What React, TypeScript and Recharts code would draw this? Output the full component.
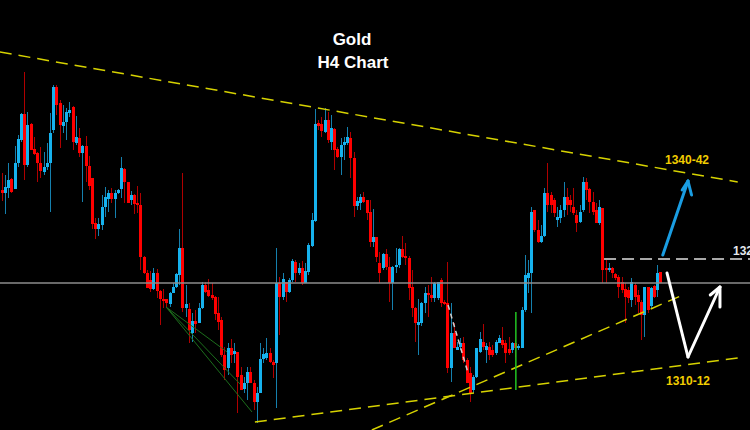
import React from 'react';
import { ComposedChart, Bar, XAxis, YAxis, ReferenceLine } from 'recharts';

// H4 candles, oldest first (price, no axis shown)
const opens = [
  1339.0, 1338.4, 1339.4, 1341.2, 1339.2, 1344.4, 1349.0, 1354.2, 1344.0, 1352.2,
  1347.2, 1346.4, 1344.4, 1342.6, 1343.6, 1344.4, 1351.0, 1359.6, 1356.4, 1351.8,
  1352.6, 1354.4, 1355.6, 1348.4, 1349.4, 1346.4, 1347.8, 1343.8, 1341.4, 1332.4,
  1331.2, 1332.0, 1335.6, 1337.2, 1338.4, 1337.2, 1338.4, 1339.2, 1343.2, 1340.6,
  1337.0, 1338.0, 1336.4, 1336.0, 1325.6, 1322.4, 1321.0, 1319.2, 1322.4, 1318.8,
  1317.2, 1317.2, 1316.2, 1318.4, 1319.6, 1322.0, 1327.4, 1315.4, 1315.2, 1310.4,
  1312.8, 1312.4, 1315.4, 1320.0, 1319.0, 1318.0, 1317.6, 1314.4, 1313.0, 1306.0,
  1303.4, 1307.4, 1306.2, 1306.6, 1302.0, 1299.2, 1300.4, 1302.6, 1300.4, 1296.6,
  1298.4, 1305.2, 1305.4, 1306.4, 1304.6, 1304.4, 1320.4, 1317.6, 1320.6, 1318.6,
  1321.0, 1324.6, 1322.4, 1323.4, 1320.4, 1322.6, 1327.8, 1332.8, 1352.4, 1352.2,
  1350.6, 1353.0, 1348.6, 1351.2, 1347.2, 1345.6, 1348.0, 1348.4, 1349.4, 1345.4,
  1335.8, 1336.4, 1337.6, 1337.0, 1334.6, 1328.6, 1329.6, 1324.4, 1323.4, 1326.2,
  1323.6, 1320.4, 1323.6, 1324.0, 1327.2, 1325.8, 1325.4, 1319.6, 1315.4, 1312.0,
  1312.4, 1316.4, 1318.4, 1318.0, 1317.4, 1317.4, 1321.0, 1316.6, 1316.4, 1303.4,
  1310.4, 1307.0, 1307.6, 1308.4, 1305.0, 1302.4, 1299.0, 1301.6, 1306.6, 1308.6,
  1307.0, 1307.6, 1307.0, 1306.4, 1308.4, 1309.0, 1308.4, 1307.2, 1307.0, 1308.4,
  1307.4, 1307.4, 1315.0, 1321.4, 1322.4, 1335.0, 1331.0, 1328.6, 1329.8, 1338.4,
  1338.0, 1337.0, 1333.0, 1333.4, 1335.0, 1337.6, 1337.0, 1335.6, 1334.0, 1332.6,
  1335.0, 1340.6, 1339.2, 1336.6, 1335.0, 1332.4, 1335.4, 1323.4, 1323.0, 1323.4,
  1322.2, 1321.6, 1320.6, 1319.2, 1319.0, 1317.0, 1320.0, 1318.0, 1316.6, 1314.0,
  1319.6, 1315.8, 1319.8, 1319.0, 1322.6,
];

const highs = [
  1342.4, 1342.0, 1344.4, 1341.4, 1347.8, 1350.0, 1354.4, 1362.6, 1354.6, 1352.4,
  1349.6, 1346.6, 1347.6, 1346.6, 1348.4, 1354.4, 1360.0, 1360.0, 1357.0, 1356.0,
  1355.4, 1356.6, 1355.8, 1353.8, 1351.4, 1348.0, 1349.8, 1345.8, 1341.4, 1333.4,
  1333.4, 1338.0, 1339.6, 1339.0, 1339.4, 1339.0, 1339.2, 1345.6, 1343.4, 1340.6,
  1338.8, 1338.2, 1339.8, 1338.4, 1325.8, 1323.0, 1322.8, 1323.4, 1323.2, 1319.0,
  1319.2, 1317.2, 1318.6, 1320.4, 1322.4, 1331.2, 1342.4, 1320.0, 1316.4, 1314.4,
  1315.0, 1316.4, 1320.6, 1320.6, 1321.2, 1320.4, 1317.8, 1317.6, 1313.6, 1307.6,
  1308.4, 1309.2, 1308.4, 1306.6, 1303.6, 1301.6, 1303.6, 1303.6, 1301.0, 1299.6,
  1308.4, 1307.4, 1309.4, 1307.4, 1305.0, 1327.4, 1321.6, 1322.4, 1320.6, 1321.4,
  1325.2, 1325.0, 1324.4, 1324.8, 1324.4, 1328.4, 1334.4, 1355.2, 1353.0, 1353.6,
  1355.4, 1354.6, 1354.0, 1351.4, 1347.6, 1349.4, 1349.6, 1351.6, 1350.6, 1346.6,
  1337.6, 1338.2, 1338.6, 1337.0, 1337.0, 1335.2, 1329.6, 1326.6, 1326.4, 1327.2,
  1325.6, 1323.8, 1327.4, 1327.4, 1329.8, 1328.4, 1325.8, 1323.0, 1315.6, 1317.2,
  1316.6, 1319.6, 1320.0, 1321.6, 1320.6, 1320.6, 1321.4, 1317.0, 1324.6, 1316.4,
  1312.4, 1308.6, 1309.4, 1309.6, 1305.4, 1303.6, 1302.0, 1307.4, 1310.6, 1312.2,
  1308.4, 1308.6, 1308.0, 1309.0, 1310.0, 1311.6, 1309.0, 1309.6, 1308.6, 1309.0,
  1308.2, 1315.6, 1326.0, 1325.0, 1335.6, 1335.0, 1333.0, 1332.0, 1339.4, 1344.4,
  1338.6, 1337.4, 1335.6, 1336.0, 1340.6, 1339.4, 1338.0, 1339.4, 1335.0, 1336.0,
  1341.6, 1341.4, 1339.4, 1338.6, 1336.4, 1337.0, 1335.4, 1325.0, 1324.4, 1323.6,
  1322.4, 1322.0, 1321.6, 1320.4, 1319.6, 1321.4, 1320.4, 1319.0, 1317.0, 1319.6,
  1319.6, 1319.6, 1320.0, 1324.0, 1322.6,
];

const lows = [
  1336.8, 1334.2, 1337.4, 1338.4, 1339.2, 1343.6, 1348.6, 1341.0, 1343.6, 1347.0,
  1346.0, 1340.6, 1341.4, 1342.0, 1343.0, 1334.6, 1350.4, 1354.0, 1347.4, 1350.4,
  1349.0, 1353.6, 1347.0, 1348.0, 1345.6, 1336.6, 1340.6, 1339.0, 1331.2, 1329.2,
  1329.8, 1331.0, 1333.6, 1334.6, 1336.4, 1333.4, 1338.2, 1337.4, 1336.4, 1336.4,
  1336.0, 1334.2, 1334.4, 1323.0, 1322.2, 1319.4, 1318.6, 1319.0, 1317.4, 1312.0,
  1315.4, 1315.4, 1315.6, 1318.4, 1319.4, 1320.0, 1314.6, 1313.6, 1308.4, 1308.6,
  1310.4, 1312.4, 1315.2, 1318.4, 1317.6, 1317.0, 1313.0, 1311.0, 1305.6, 1301.0,
  1302.0, 1304.4, 1304.4, 1294.4, 1299.0, 1298.4, 1297.0, 1300.4, 1295.0, 1292.4,
  1298.4, 1304.4, 1305.0, 1304.4, 1301.4, 1295.4, 1310.0, 1317.0, 1316.6, 1318.4,
  1320.6, 1320.6, 1322.0, 1320.0, 1320.4, 1322.0, 1327.6, 1332.6, 1351.0, 1349.6,
  1350.4, 1348.4, 1347.0, 1343.0, 1345.4, 1342.0, 1345.0, 1348.0, 1341.4, 1333.6,
  1335.0, 1335.0, 1336.4, 1333.0, 1327.6, 1327.6, 1324.6, 1320.4, 1323.0, 1323.0,
  1316.6, 1315.0, 1322.4, 1323.4, 1325.4, 1324.0, 1317.0, 1313.6, 1308.6, 1306.0,
  1311.8, 1314.4, 1313.6, 1316.6, 1316.6, 1317.0, 1315.6, 1316.0, 1302.4, 1300.6,
  1307.6, 1307.0, 1307.0, 1304.4, 1300.4, 1296.6, 1298.4, 1301.4, 1306.4, 1307.0,
  1304.4, 1305.0, 1305.6, 1306.0, 1308.4, 1307.4, 1304.4, 1306.0, 1306.4, 1305.6,
  1307.0, 1307.4, 1314.6, 1318.4, 1314.4, 1330.6, 1328.4, 1328.4, 1329.6, 1334.6,
  1334.4, 1333.6, 1331.6, 1332.4, 1333.6, 1334.0, 1334.6, 1334.0, 1330.6, 1332.4,
  1334.6, 1337.0, 1334.4, 1334.0, 1332.4, 1332.0, 1320.4, 1320.4, 1322.6, 1321.4,
  1321.0, 1317.4, 1318.4, 1312.4, 1316.4, 1315.6, 1316.0, 1314.4, 1309.0, 1309.6,
  1314.4, 1315.4, 1317.4, 1317.6, 1320.4,
];

const closes = [
  1338.4, 1339.6, 1341.0, 1338.6, 1344.4, 1349.2, 1354.2, 1344.0, 1352.0, 1347.0,
  1346.2, 1344.4, 1342.8, 1343.6, 1344.4, 1350.4, 1359.6, 1356.0, 1352.0, 1352.6,
  1354.6, 1355.0, 1348.6, 1349.6, 1346.4, 1347.8, 1343.8, 1339.8, 1332.2, 1331.2,
  1332.2, 1335.6, 1337.6, 1338.4, 1337.2, 1338.4, 1339.0, 1343.4, 1340.6, 1336.4,
  1338.0, 1336.2, 1336.0, 1325.6, 1322.4, 1319.4, 1319.2, 1322.4, 1318.8, 1317.2,
  1316.8, 1316.4, 1318.4, 1319.6, 1322.2, 1327.4, 1315.4, 1316.2, 1311.0, 1312.8,
  1312.2, 1315.4, 1320.0, 1318.6, 1317.8, 1317.4, 1314.2, 1312.6, 1306.0, 1303.0,
  1307.4, 1306.0, 1306.8, 1301.6, 1299.0, 1300.4, 1302.6, 1300.4, 1296.6, 1298.4,
  1305.2, 1306.2, 1306.4, 1304.6, 1304.0, 1320.4, 1317.6, 1321.2, 1318.6, 1321.0,
  1324.8, 1322.4, 1323.4, 1320.4, 1322.8, 1328.0, 1333.0, 1352.2, 1351.8, 1350.8,
  1353.0, 1349.0, 1351.4, 1347.0, 1345.6, 1348.0, 1348.6, 1349.6, 1345.4, 1335.8,
  1336.8, 1337.6, 1336.6, 1334.4, 1328.6, 1329.6, 1325.6, 1322.4, 1326.2, 1323.6,
  1320.4, 1323.6, 1324.0, 1327.2, 1325.6, 1325.4, 1319.4, 1315.4, 1312.4, 1312.6,
  1316.4, 1318.4, 1318.0, 1317.4, 1320.4, 1320.6, 1316.4, 1316.2, 1303.4, 1310.4,
  1307.4, 1307.6, 1308.4, 1305.0, 1300.4, 1298.4, 1301.6, 1307.4, 1309.2, 1307.6,
  1307.8, 1306.0, 1306.0, 1308.6, 1309.4, 1308.0, 1306.4, 1306.4, 1308.4, 1307.4,
  1307.8, 1315.0, 1322.0, 1322.4, 1334.6, 1331.0, 1328.6, 1329.8, 1338.4, 1336.0,
  1336.0, 1334.4, 1333.6, 1335.0, 1337.6, 1336.0, 1336.0, 1334.4, 1332.4, 1334.6,
  1340.6, 1339.0, 1336.6, 1334.6, 1332.4, 1335.6, 1323.0, 1323.0, 1323.4, 1322.4,
  1321.4, 1319.6, 1319.0, 1317.6, 1317.4, 1320.6, 1317.6, 1316.6, 1314.0, 1319.6,
  1315.0, 1319.4, 1317.6, 1322.4, 1320.4,
];

// drawn objects, x in candle index, y in price
const upperTrend = [{ x: -0.6, y: 1366.6 }, { x: 227.9, y: 1340.6 }];
const lowerTrend = [{ x: 78.4, y: 1292.6 }, { x: 227.9, y: 1305.4 }];
const risingTrend = [{ x: 114.6, y: 1291.0 }, { x: 210.9, y: 1318.0 }];
const greenFan = [
  [{ x: 50.9, y: 1315.6 }, { x: 69.8, y: 1306.6 }],
  [{ x: 50.9, y: 1315.6 }, { x: 73.8, y: 1300.2 }],
  [{ x: 50.9, y: 1315.6 }, { x: 77.5, y: 1294.6 }],
];
const breakoutBar = [{ x: 159.2, y: 1314.6 }, { x: 159.2, y: 1299.0 }];
const dropPath = [{ x: 138.2, y: 1316.0 }, { x: 144.4, y: 1302.4 }];
const pivotLevel = 1320.4;
const resistance = [{ x: 186.5, y: 1325.2 }, { x: 232, y: 1325.2 }];
const blueArrow = [
  [{ x: 204.7, y: 1326.0 }, { x: 212.5, y: 1340.8 }],
  [{ x: 212.5, y: 1340.8 }, { x: 210.7, y: 1339.0 }],
  [{ x: 212.5, y: 1340.8 }, { x: 213.6, y: 1338.0 }],
];
const whiteArrow = [
  [{ x: 206.0, y: 1322.4 }, { x: 212.5, y: 1305.6 }],
  [{ x: 212.5, y: 1305.6 }, { x: 222.4, y: 1319.6 }],
  [{ x: 222.4, y: 1319.6 }, { x: 219.4, y: 1318.0 }],
  [{ x: 222.4, y: 1319.6 }, { x: 222.4, y: 1315.6 }],
];

const candles = opens.map((open, i) => ({
  idx: i,
  open,
  high: highs[i],
  low: lows[i],
  close: closes[i],
}));

const UP = '#16b2ee';
const UP_WICK = '#1580ae';
const DOWN = '#ff0000';
const DOWN_WICK = '#b00000';
const YELLOW = '#d6d200';

const Candle = (props: any) => {
  const { x, y, width, height, payload } = props;
  const { open, close, high, low } = payload;
  const up = close >= open;
  const k = height / (high - low || 1);
  const yo = y + (high - open) * k;
  const yc = y + (high - close) * k;
  const cx = Math.round(x + width / 2) + 0.5;
  return (
    <g>
      <line x1={cx} x2={cx} y1={y} y2={y + height} stroke={up ? UP_WICK : DOWN_WICK} strokeWidth={1} />
      <rect
        x={cx - 1.5}
        y={Math.min(yo, yc)}
        width={3}
        height={Math.max(Math.abs(yo - yc), 1)}
        fill={up ? UP : DOWN}
      />
    </g>
  );
};

const txt: React.CSSProperties = {
  position: 'absolute',
  fontFamily: '"Liberation Sans", Arial, sans-serif',
  fontWeight: 'bold',
  whiteSpace: 'nowrap',
};

export default function App() {
  return (
    <div style={{ position: 'fixed', left: 0, top: 0, width: 750, height: 430, background: '#000', overflow: 'hidden' }}>
      <ComposedChart width={750} height={430} data={candles} margin={{ top: 0, right: 0, bottom: 0, left: 0 }}>
        <XAxis dataKey="idx" type="number" domain={[-0.53, 231.7]} allowDataOverflow hide />
        <YAxis type="number" domain={[1291, 1377]} allowDataOverflow hide />
        <ReferenceLine y={pivotLevel} stroke="#8c8c8c" strokeWidth={1.5} />
        <Bar dataKey={(d: any) => [d.low, d.high]} barSize={3} shape={Candle} isAnimationActive={false} />
        <ReferenceLine segment={upperTrend} stroke={YELLOW} strokeWidth={1.5} strokeDasharray="12 7" ifOverflow="visible" />
        <ReferenceLine segment={lowerTrend} stroke={YELLOW} strokeWidth={1.5} strokeDasharray="12 7" ifOverflow="visible" />
        <ReferenceLine segment={risingTrend} stroke={YELLOW} strokeWidth={1.5} strokeDasharray="12 7" ifOverflow="visible" />
        {greenFan.map((seg, i) => (
          <ReferenceLine key={'g' + i} segment={seg} stroke="#1c6e1c" strokeWidth={1} ifOverflow="visible" />
        ))}
        <ReferenceLine segment={breakoutBar} stroke="#22c422" strokeWidth={1.5} ifOverflow="visible" />
        <ReferenceLine segment={dropPath} stroke="#d0d0d0" strokeWidth={1.5} strokeDasharray="5 4" ifOverflow="visible" />
        <ReferenceLine segment={resistance} stroke="#a8a8a8" strokeWidth={2} strokeDasharray="12 6" ifOverflow="visible" />
        {blueArrow.map((seg, i) => (
          <ReferenceLine key={'b' + i} segment={seg} stroke="#1a9de2" strokeWidth={3} strokeLinecap="round" ifOverflow="visible" />
        ))}
        {whiteArrow.map((seg, i) => (
          <ReferenceLine key={'w' + i} segment={seg} stroke="#ffffff" strokeWidth={3} strokeLinecap="round" ifOverflow="visible" />
        ))}
      </ComposedChart>
      <div style={{ ...txt, left: 302, width: 100, top: 31, fontSize: 17, lineHeight: '17px', color: '#fff', textAlign: 'center' }}>Gold</div>
      <div style={{ ...txt, left: 303, width: 100, top: 54, fontSize: 17, lineHeight: '17px', color: '#fff', textAlign: 'center' }}>H4 Chart</div>
      <div style={{ ...txt, left: 665, top: 154, fontSize: 12, lineHeight: '12px', color: '#f0cc00' }}>1340-42</div>
      <div style={{ ...txt, left: 666, top: 375, fontSize: 12, lineHeight: '12px', color: '#f0cc00' }}>1310-12</div>
      <div style={{ ...txt, left: 733, top: 245, fontSize: 12, lineHeight: '12px', color: '#e4e8ec' }}>1325</div>
    </div>
  );
}
